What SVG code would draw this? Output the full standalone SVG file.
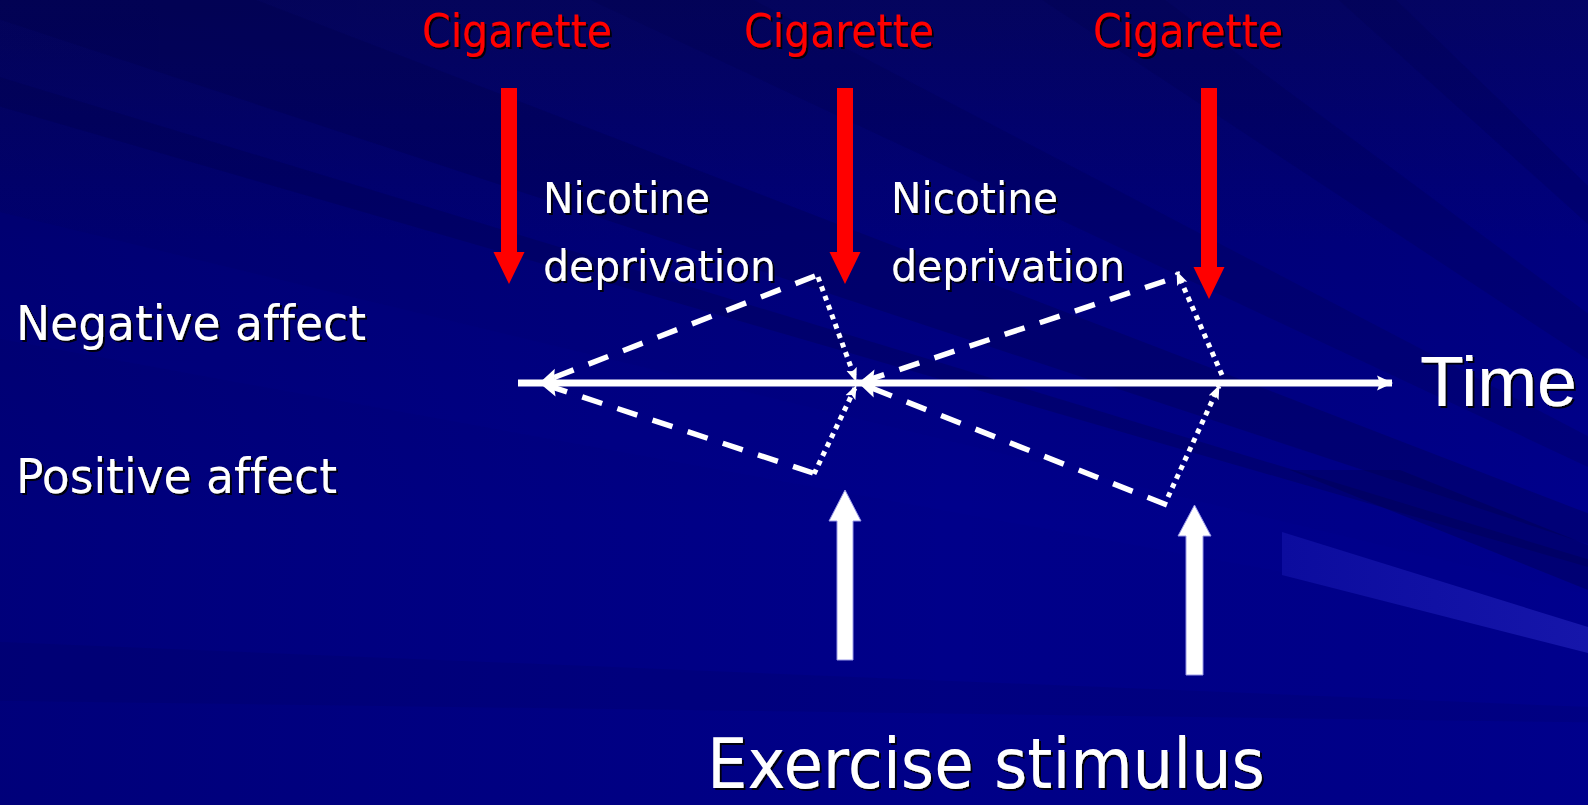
<svg xmlns="http://www.w3.org/2000/svg" width="1588" height="805" viewBox="0 0 1588 805">
<defs>
<linearGradient id="bg" x1="0" y1="0" x2="0" y2="1">
<stop offset="0" stop-color="#04045e"/>
<stop offset="0.3" stop-color="#00007a"/>
<stop offset="0.65" stop-color="#00008a"/>
<stop offset="1" stop-color="#000088"/>
</linearGradient>
<linearGradient id="bgx" x1="0" y1="0" x2="1" y2="0">
<stop offset="0" stop-color="#000040" stop-opacity="0.2"/>
<stop offset="0.6" stop-color="#000040" stop-opacity="0"/>
<stop offset="1" stop-color="#0000a0" stop-opacity="0.12"/>
</linearGradient>
<linearGradient id="streak" x1="0" y1="0" x2="1" y2="0">
<stop offset="0" stop-color="#0c0c9e"/>
<stop offset="1" stop-color="#1616aa"/>
</linearGradient>
<filter id="sh" x="-5%" y="-20%" width="110%" height="140%">
<feDropShadow dx="2" dy="2" stdDeviation="0.4" flood-color="#000000" flood-opacity="0.9"/>
</filter>
<marker id="ahAxis" markerUnits="userSpaceOnUse" viewBox="0 0 16 16" markerWidth="16" markerHeight="16" refX="15" refY="8" orient="auto">
<path d="M0,0.5 L16,8 L0,15.5 L3,8 z" fill="#ffffff"/>
</marker>
<marker id="ahDash" markerUnits="userSpaceOnUse" viewBox="0 0 20 18" markerWidth="20" markerHeight="18" refX="19" refY="9" orient="auto">
<path d="M0,1 L20,9 L0,17 L4,9 z" fill="#ffffff"/>
</marker>
<marker id="ahDot" markerUnits="userSpaceOnUse" viewBox="0 0 14 12" markerWidth="14" markerHeight="12" refX="13" refY="6" orient="auto">
<path d="M0,0.5 L14,6 L0,11.5 L3,6 z" fill="#ffffff"/>
</marker>
<style>
.t{font-family:"DejaVu Sans","Liberation Sans",sans-serif;fill:#ffffff;filter:url(#sh);font-variant-ligatures:none;font-feature-settings:"liga" 0,"clig" 0}
.r{fill:#ff0000}
.dash{fill:none;stroke:#ffffff;stroke-width:5.5;stroke-dasharray:21 16;marker-end:url(#ahDash)}
.dot{fill:none;stroke:#ffffff;stroke-width:5;stroke-dasharray:5 5;marker-end:url(#ahDot)}
.redArrow{fill:#ff0000}
.whiteArrow{fill:#ffffff;stroke:#9a9ae8;stroke-width:1}
.dk{fill:#000048}
</style>
</defs>

<g id="background">
<rect x="0" y="0" width="1588" height="805" fill="url(#bg)"/>
<rect x="0" y="0" width="1588" height="805" fill="url(#bgx)"/>
<polygon class="dk" points="2150,730 -50,-118 -50,3" opacity="0.3"/>
<polygon class="dk" points="2150,730 -50,62 -50,92" opacity="0.3"/>
<polygon class="dk" points="2150,730 -50,-420 -50,-300" opacity="0.22"/>
<polygon class="dk" points="2150,730 -50,-900 -50,-720" opacity="0.2"/>
<polygon class="dk" points="2150,730 -50,-1400 -50,-1250" opacity="0.2"/>
<polygon points="2150,730 -50,200 -50,330" fill="#0000a0" opacity="0.1"/>
<polygon class="dk" points="2150,730 -50,640 -50,700" opacity="0.12"/>
<polygon class="dk" points="1290,470 1400,470 1588,545 1588,590" opacity="0.35"/>
<polygon points="1282,532 1588,627 1588,653 1282,575" fill="url(#streak)"/>
</g>

<g id="connectors">
<line id="time-axis" x1="518" y1="383" x2="1392" y2="383" stroke="#ffffff" stroke-width="7" marker-end="url(#ahAxis)"/>
<path class="dash" d="M815,276 L540,383"/>
<path class="dash" d="M813,473 L540,383"/>
<path class="dash" d="M1165,281 L859,383"/>
<path class="dash" d="M1167,505 L859,383"/>
<path class="dot" d="M818,277 L856,381"/>
<path class="dot" d="M814,474 L856,386"/>
<path class="dot" d="M1222,375 L1177,272"/>
<path class="dot" d="M1168,497 L1219,386"/>
</g>

<g id="cigarette-1">
<text class="t r" x="422" y="47" font-size="46" textLength="190" lengthAdjust="spacingAndGlyphs">Cigarette</text>
<polygon class="redArrow" points="501,88 517,88 517,252 524.5,252 509,284 493.5,252 501,252"/>
</g>
<g id="cigarette-2">
<text class="t r" x="744" y="47" font-size="46" textLength="190" lengthAdjust="spacingAndGlyphs">Cigarette</text>
<polygon class="redArrow" points="837,88 853,88 853,252 860.5,252 845,284 829.5,252 837,252"/>
</g>
<g id="cigarette-3">
<text class="t r" x="1093" y="47" font-size="46" textLength="190" lengthAdjust="spacingAndGlyphs">Cigarette</text>
<polygon class="redArrow" points="1201,88 1217,88 1217,267 1224.5,267 1209,299 1193.5,267 1201,267"/>
</g>

<g id="nicotine-deprivation-1">
<text class="t" x="543" y="213" font-size="43" textLength="167" lengthAdjust="spacingAndGlyphs">Nicotine</text>
<text class="t" x="543" y="281" font-size="43" textLength="233" lengthAdjust="spacingAndGlyphs">deprivation</text>
</g>
<g id="nicotine-deprivation-2">
<text class="t" x="891" y="213" font-size="43" textLength="167" lengthAdjust="spacingAndGlyphs">Nicotine</text>
<text class="t" x="891" y="281" font-size="43" textLength="234" lengthAdjust="spacingAndGlyphs">deprivation</text>
</g>

<g id="negative-affect">
<text class="t" x="16" y="340" font-size="48" textLength="350" lengthAdjust="spacingAndGlyphs">Negative affect</text>
</g>
<g id="positive-affect">
<text class="t" x="16" y="493" font-size="48" textLength="321" lengthAdjust="spacingAndGlyphs">Positive affect</text>
</g>
<g id="time">
<text class="t" x="1420" y="406" font-size="71" textLength="157" lengthAdjust="spacingAndGlyphs" style="font-family:'Liberation Sans',sans-serif">Time</text>
</g>

<g id="exercise-1">
<polygon class="whiteArrow" points="837,660 853,660 853,521 861,521 845,490 829,521 837,521"/>
</g>
<g id="exercise-2">
<polygon class="whiteArrow" points="1186,675 1203,675 1203,536 1211,536 1194.5,505 1178,536 1186,536"/>
</g>
<g id="exercise-stimulus">
<text class="t" x="707" y="788" font-size="69" textLength="558" lengthAdjust="spacingAndGlyphs">Exercise stimulus</text>
</g>
</svg>
